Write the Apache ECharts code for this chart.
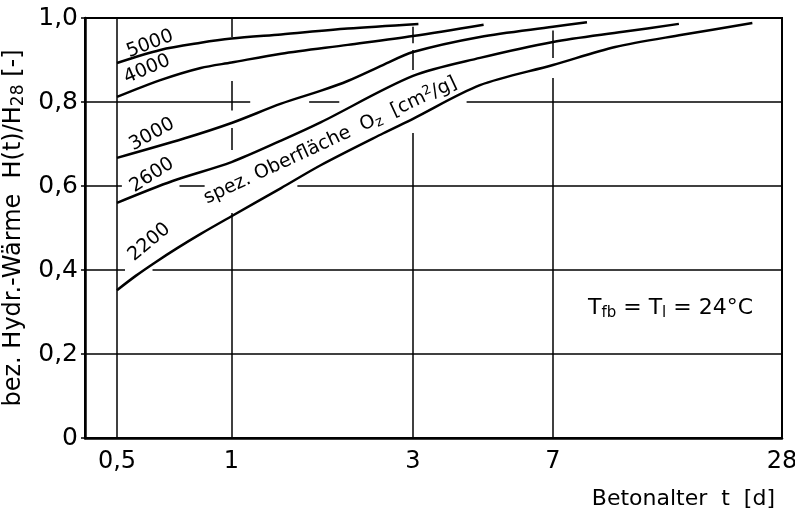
<!DOCTYPE html>
<html>
<head>
<meta charset="utf-8">
<script src="https://cdn.jsdelivr.net/npm/echarts@6/dist/echarts.min.js"></script>
<style>
html, body { margin: 0; padding: 0; background: #fff; }
#chart { width: 795px; height: 515px; }
</style>
</head>
<body>
<div id="chart"></div>
<script>
// Betonalter t [d] (log axis) and H(t)/H28 per specific surface
var tickDays = [0.5, 1, 3, 7, 28];

var days5000 = [0.5, 0.65, 0.83, 1.0, 1.35, 2.02, 3.1];
var h5000 = [0.893, 0.924, 0.941, 0.951, 0.961, 0.975, 0.986];

var days4000 = [0.5, 0.65, 0.83, 1.0, 1.35, 2.02, 3.0, 4.6];
var h4000 = [0.812, 0.852, 0.881, 0.894, 0.915, 0.936, 0.957, 0.984];

var days3000 = [0.5, 0.75, 1.0, 1.35, 1.72, 2.02, 2.5, 3.0, 4.5, 7.0, 8.6];
var h3000 = [0.667, 0.713, 0.75, 0.796, 0.827, 0.85, 0.888, 0.919, 0.955, 0.979, 0.99];

var days2600 = [0.5, 0.7, 1.0, 1.35, 1.72, 3.0, 4.5, 7.0, 10.7, 15];
var h2600 = [0.56, 0.612, 0.657, 0.708, 0.752, 0.862, 0.905, 0.943, 0.967, 0.986];

var days2200 = [0.5, 0.56, 0.63, 0.72, 0.83, 1.0, 1.35, 1.72, 2.5, 3.0, 4.5, 7.0, 10.2, 15.3, 23.4];
var h2200 = [0.352, 0.386, 0.418, 0.452, 0.486, 0.528, 0.595, 0.65, 0.725, 0.76, 0.84, 0.888, 0.931, 0.96, 0.988];

var curveNames = ['5000', '4000', '3000', '2600', '2200'];

var FONT = 'DejaVu Sans';

function zip(a, b) {
    return a.map(function (v, i) { return [v, b[i]]; });
}

// gridline pieces (interrupted like the original drawing)
function hSeg(h, t1, t2) { return [{ coord: [t1, h] }, { coord: [t2, h] }]; }
function vSeg(t, h1, h2) { return [{ coord: [t, h1] }, { coord: [t, h2] }]; }

var gridSegs = [
    hSeg(0.2, 0.412, 28),
    hSeg(0.4, 0.412, 0.525), hSeg(0.4, 0.62, 28),
    hSeg(0.6, 0.412, 0.515), hSeg(0.6, 0.73, 0.85), hSeg(0.6, 1.49, 28),
    hSeg(0.8, 0.412, 1.12), hSeg(0.8, 1.6, 1.92), hSeg(0.8, 4.15, 28),
    vSeg(0.5, 0, 1),
    vSeg(1, 0, 0.536), vSeg(1, 0.686, 0.738), vSeg(1, 0.78, 0.85), vSeg(1, 0.955, 1),
    vSeg(3, 0, 0.726), vSeg(3, 0.876, 0.924), vSeg(3, 0.94, 0.979),
    vSeg(7, 0, 0.857), vSeg(7, 0.905, 0.97)
];

// label spots along curves: [t, H, rotation]
var labelSpots = [
    [0.611, 0.938, 21],
    [0.60, 0.878, 23],
    [0.618, 0.723, 29],
    [0.618, 0.626, 33],
    [0.608, 0.466, 40]
];

var curveData = [
    zip(days5000, h5000),
    zip(days4000, h4000),
    zip(days3000, h3000),
    zip(days2600, h2600),
    zip(days2200, h2200)
];

var series = curveData.map(function (d, i) {
    return {
        name: curveNames[i],
        type: 'line',
        smooth: 0.3,
        symbol: 'none',
        data: d,
        lineStyle: { color: '#000', width: 2.5 },
        markPoint: {
            symbol: 'circle',
            symbolSize: 0,
            silent: true,
            data: [{
                coord: [labelSpots[i][0], labelSpots[i][1]],
                label: {
                    show: true,
                    formatter: curveNames[i],
                    rotate: labelSpots[i][2],
                    position: 'inside',
                    color: '#000',
                    fontFamily: FONT,
                    fontSize: 19
                }
            }]
        }
    };
});

series.push({
    name: 'grid',
    type: 'line',
    symbol: 'none',
    data: [[0.5, 0]],
    lineStyle: { width: 0 },
    silent: true,
    markLine: {
        silent: true,
        symbol: ['none', 'none'],
        label: { show: false },
        lineStyle: { color: '#000', width: 1.5, type: 'solid' },
        data: gridSegs
    },
    markPoint: {
        symbol: 'circle',
        symbolSize: 0,
        silent: true,
        data: [{
            coord: [1.82, 0.708],
            label: {
                show: true,
                position: 'inside',
                rotate: 25,
                color: '#000',
                fontFamily: FONT,
                fontSize: 19,
                formatter: 'spez. Oberfläche  O{s|z}  [cm{p|2}/g]',
                rich: {
                    s: { fontSize: 14, fontFamily: FONT, color: '#000', verticalAlign: 'bottom', padding: [8, 0, 0, 0] },
                    p: { fontSize: 13, fontFamily: FONT, color: '#000', verticalAlign: 'top', padding: [0, 0, 8, 0] }
                }
            }
        }]
    }
});

var chart = echarts.init(document.getElementById('chart'));
chart.setOption({
    animation: false,
    backgroundColor: '#fff',
    grid: {
        left: 85, right: 13, top: 18, bottom: 77,
        containLabel: false,
        outerBoundsMode: 'none',
        show: true, borderColor: '#000', borderWidth: 2
    },
    title: {
        text: 'Betonalter  t  [d]',
        right: 15,
        top: 483,
        textStyle: { fontFamily: FONT, fontSize: 22, fontWeight: 'normal', color: '#000' }
    },
    graphic: [{
        type: 'text',
        left: 588,
        top: 297,
        style: {
            text: 'T{s|fb} = T{s|l} = 24°C',
            fontFamily: FONT,
            fontSize: 22,
            fill: '#000',
            rich: {
                s: { fontSize: 15, fontFamily: FONT, fill: '#000', padding: [10, 0, 0, 0] }
            }
        }
    }],
    xAxis: {
        type: 'log',
        logBase: 10,
        min: 0.412,
        max: 28,
        axisLine: { show: true, onZero: false, lineStyle: { color: '#000', width: 2.5 } },
        axisTick: { show: false },
        splitLine: { show: false },
        axisLabel: {
            customValues: tickDays,
            color: '#000',
            fontFamily: FONT,
            fontSize: 24,
            margin: 12,
            formatter: function (v) { return String(v).replace('.', ','); }
        }
    },
    yAxis: {
        type: 'value',
        min: 0,
        max: 1,
        interval: 0.2,
        name: 'bez. Hydr.-Wärme  H(t)/H{s|28} [-]',
        nameLocation: 'middle',
        nameGap: 56,
        nameRotate: 90,
        nameTextStyle: {
            fontFamily: FONT, fontSize: 24, color: '#000',
            rich: { s: { fontFamily: FONT, fontSize: 17, color: '#000', padding: [10, 0, 0, 0] } }
        },
        axisLine: { show: true, lineStyle: { color: '#000', width: 2.5 } },
        axisTick: { show: true, length: 4, lineStyle: { color: '#000', width: 1.5 } },
        splitLine: { show: false },
        axisLabel: {
            color: '#000',
            fontFamily: FONT,
            fontSize: 25,
            margin: 7,
            formatter: function (v) { return v === 0 ? '0' : v.toFixed(1).replace('.', ','); }
        }
    },
    series: series
});
window.addEventListener('resize', function () { chart.resize(); });
</script>
</body>
</html>
